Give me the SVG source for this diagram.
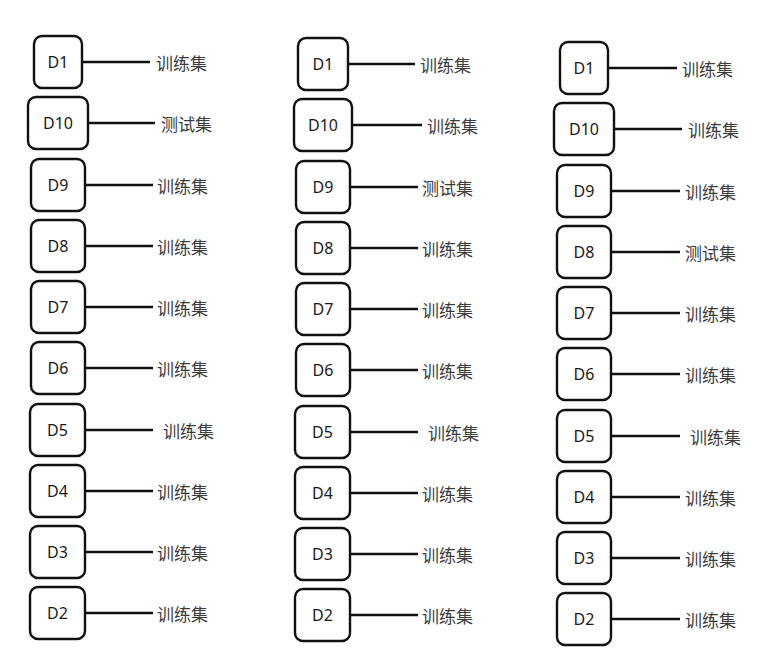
<svg xmlns="http://www.w3.org/2000/svg" width="774" height="666" viewBox="0 0 774 666">
<style>
.box{fill:#fff;stroke:#111;stroke-width:2.4}
.lbl{font-family:"Noto Sans","DejaVu Sans",sans-serif;font-size:16px;fill:#1a1a1a;text-anchor:middle;dominant-baseline:central}
.cn{font-family:"Noto Sans CJK SC","Noto Sans",sans-serif;font-size:17px;fill:#3c3c3c;dominant-baseline:central}
.ln{stroke:#111;stroke-width:2.4;fill:none}
</style>
<rect width="774" height="666" fill="#fff"/>
<g id="col1">
<g id="c1-d1"><rect class="box" x="34" y="36" width="48" height="52" rx="8"/><text class="lbl" x="58" y="62">D1</text></g>
<g id="c1-d10"><rect class="box" x="28" y="97" width="60" height="52" rx="8"/><text class="lbl" x="58" y="123">D10</text></g>
<g id="c1-d9"><rect class="box" x="31" y="159" width="54" height="52" rx="8"/><text class="lbl" x="58" y="185">D9</text></g>
<g id="c1-d8"><rect class="box" x="31" y="220" width="54" height="52" rx="8"/><text class="lbl" x="58" y="246">D8</text></g>
<g id="c1-d7"><rect class="box" x="31" y="281" width="54" height="52" rx="8"/><text class="lbl" x="58" y="307">D7</text></g>
<g id="c1-d6"><rect class="box" x="31" y="342" width="54" height="52" rx="8"/><text class="lbl" x="58" y="368">D6</text></g>
<g id="c1-d5"><rect class="box" x="30" y="404" width="55" height="52" rx="8"/><text class="lbl" x="57.5" y="430">D5</text></g>
<g id="c1-d4"><rect class="box" x="30" y="465" width="55" height="52" rx="8"/><text class="lbl" x="57.5" y="491">D4</text></g>
<g id="c1-d3"><rect class="box" x="30" y="526" width="55" height="52" rx="8"/><text class="lbl" x="57.5" y="552">D3</text></g>
<g id="c1-d2"><rect class="box" x="30" y="587" width="55" height="52" rx="8"/><text class="lbl" x="57.5" y="613">D2</text></g>
</g>
<g id="col2">
<g id="c2-d1"><rect class="box" x="298" y="38" width="50" height="52" rx="8"/><text class="lbl" x="323" y="64">D1</text></g>
<g id="c2-d10"><rect class="box" x="294" y="99" width="58" height="52" rx="8"/><text class="lbl" x="323" y="125">D10</text></g>
<g id="c2-d9"><rect class="box" x="296" y="161" width="54" height="52" rx="8"/><text class="lbl" x="323" y="187">D9</text></g>
<g id="c2-d8"><rect class="box" x="296" y="222" width="54" height="52" rx="8"/><text class="lbl" x="323" y="248">D8</text></g>
<g id="c2-d7"><rect class="box" x="296" y="283" width="54" height="52" rx="8"/><text class="lbl" x="323" y="309">D7</text></g>
<g id="c2-d6"><rect class="box" x="296" y="344" width="54" height="52" rx="8"/><text class="lbl" x="323" y="370">D6</text></g>
<g id="c2-d5"><rect class="box" x="295" y="406" width="55" height="52" rx="8"/><text class="lbl" x="322.5" y="432">D5</text></g>
<g id="c2-d4"><rect class="box" x="295" y="467" width="55" height="52" rx="8"/><text class="lbl" x="322.5" y="493">D4</text></g>
<g id="c2-d3"><rect class="box" x="295" y="528" width="55" height="52" rx="8"/><text class="lbl" x="322.5" y="554">D3</text></g>
<g id="c2-d2"><rect class="box" x="295" y="589" width="55" height="52" rx="8"/><text class="lbl" x="322.5" y="615">D2</text></g>
</g>
<g id="col3">
<g id="c3-d1"><rect class="box" x="560" y="42" width="48" height="52" rx="8"/><text class="lbl" x="584" y="68">D1</text></g>
<g id="c3-d10"><rect class="box" x="554" y="103" width="60" height="52" rx="8"/><text class="lbl" x="584" y="129">D10</text></g>
<g id="c3-d9"><rect class="box" x="557" y="165" width="54" height="52" rx="8"/><text class="lbl" x="584" y="191">D9</text></g>
<g id="c3-d8"><rect class="box" x="557" y="226" width="54" height="52" rx="8"/><text class="lbl" x="584" y="252">D8</text></g>
<g id="c3-d7"><rect class="box" x="557" y="287" width="54" height="52" rx="8"/><text class="lbl" x="584" y="313">D7</text></g>
<g id="c3-d6"><rect class="box" x="557" y="348" width="54" height="52" rx="8"/><text class="lbl" x="584" y="374">D6</text></g>
<g id="c3-d5"><rect class="box" x="557" y="410" width="54" height="52" rx="8"/><text class="lbl" x="584" y="436">D5</text></g>
<g id="c3-d4"><rect class="box" x="557" y="471" width="54" height="52" rx="8"/><text class="lbl" x="584" y="497">D4</text></g>
<g id="c3-d3"><rect class="box" x="557" y="532" width="54" height="52" rx="8"/><text class="lbl" x="584" y="558">D3</text></g>
<g id="c3-d2"><rect class="box" x="557" y="593" width="54" height="52" rx="8"/><text class="lbl" x="584" y="619">D2</text></g>
</g>
<g id="connectors">
<path class="ln" d="M83 62H150M89 123H155M86 185H153M86 246H153M86 307H153M86 368H153M86 430H153M86 491H153M86 552H153M86 613H153"/>
<path class="ln" d="M349 64H415M353 125H422M351 187H418M351 248H418M351 309H418M351 370H418M351 432H418M351 493H418M351 554H418M351 615H418"/>
<path class="ln" d="M609 68H677M615 129H682M612 191H680M612 252H680M612 313H680M612 374H680M612 436H680M612 497H680M612 558H680M612 619H680"/>
</g>
<g id="labels">
<text class="cn" x="156" y="62">训练集</text>
<text class="cn" x="161" y="123">测试集</text>
<text class="cn" x="157" y="185">训练集</text>
<text class="cn" x="157" y="246">训练集</text>
<text class="cn" x="157" y="307">训练集</text>
<text class="cn" x="157" y="368">训练集</text>
<text class="cn" x="163" y="430">训练集</text>
<text class="cn" x="157" y="491">训练集</text>
<text class="cn" x="157" y="552">训练集</text>
<text class="cn" x="157" y="613">训练集</text>
<text class="cn" x="420" y="64">训练集</text>
<text class="cn" x="427" y="125">训练集</text>
<text class="cn" x="422" y="187">测试集</text>
<text class="cn" x="422" y="248">训练集</text>
<text class="cn" x="422" y="309">训练集</text>
<text class="cn" x="422" y="370">训练集</text>
<text class="cn" x="428" y="432">训练集</text>
<text class="cn" x="422" y="493">训练集</text>
<text class="cn" x="422" y="554">训练集</text>
<text class="cn" x="422" y="615">训练集</text>
<text class="cn" x="682" y="68">训练集</text>
<text class="cn" x="688" y="129">训练集</text>
<text class="cn" x="685" y="191">训练集</text>
<text class="cn" x="685" y="252">测试集</text>
<text class="cn" x="685" y="313">训练集</text>
<text class="cn" x="685" y="374">训练集</text>
<text class="cn" x="690" y="436">训练集</text>
<text class="cn" x="685" y="497">训练集</text>
<text class="cn" x="685" y="558">训练集</text>
<text class="cn" x="685" y="619">训练集</text>
</g>
</svg>
